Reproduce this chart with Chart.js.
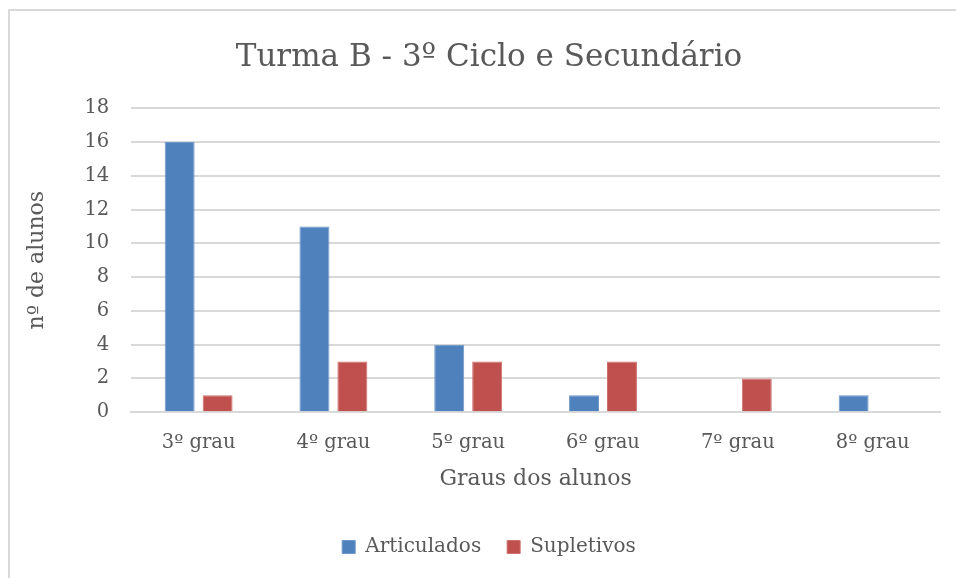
<!DOCTYPE html>
<html>
<head>
<meta charset="utf-8">
<script src="https://cdn.jsdelivr.net/npm/chart.js@4"></script>
<style>
  html, body { margin: 0; padding: 0; background: #fff; overflow: hidden; width: 956px; height: 578px; }
  #frame {
    position: absolute; left: 8px; top: 9px;
    width: 962px; height: 580px;
    border: 2px solid #d9d9d9; box-sizing: border-box; background: #fff;
  }
  #chart { display: block; }
</style>
</head>
<body>
<div id="frame"><canvas id="chart" width="958" height="576"></canvas></div>
<script>
  // dados
  const graus = ["3º grau", "4º grau", "5º grau", "6º grau", "7º grau", "8º grau"];
  const articulados = [16, 11, 4, 1, 0, 1];
  const supletivos = [1, 3, 3, 3, 2, 0];
  const yTicks = [0, 2, 4, 6, 8, 10, 12, 14, 16, 18];

  const FONT = "'DejaVu Serif', 'Liberation Serif', serif";
  const TXT = "#595959";
  const GRID = "#d9d9d9";

  new Chart(document.getElementById("chart"), {
    type: "bar",
    data: {
      labels: graus,
      datasets: [
        { label: "Articulados", data: articulados, backgroundColor: "#4f81bd", borderColor: "#6f97c9", borderWidth: 1 },
        { label: "Supletivos", data: supletivos, backgroundColor: "#c0504d", borderColor: "#cc716e", borderWidth: 1 }
      ]
    },
    options: {
      responsive: false,
      animation: false,
      categoryPercentage: 0.563,
      barPercentage: 0.79,
      layout: { padding: { left: 10, right: 10, top: 10, bottom: 20 } },
      scales: {
        x: {
          grid: { display: false },
          border: { color: GRID, width: 2 },
          ticks: { color: TXT, font: { family: FONT, size: 19.5 }, padding: 11 },
          title: { display: true, text: "Graus dos alunos", color: TXT, font: { family: FONT, size: 22 }, padding: { top: 0, bottom: 19 } }
        },
        y: {
          min: 0, max: 18,
          afterBuildTicks: axis => { axis.ticks = yTicks.map(v => ({ value: v })); },
          grid: { color: GRID, lineWidth: 2, drawTicks: false },
          border: { display: false },
          ticks: { color: TXT, font: { family: FONT, size: 19.5 }, padding: 22 },
          title: { display: true, text: "nº de alunos", color: TXT, font: { family: FONT, size: 22 }, padding: { bottom: 12 } }
        },
        // eixo vazio só para dar margem à direita
        yDir: {
          position: "right",
          grid: { display: false },
          border: { display: false },
          ticks: { display: false },
          afterFit: axis => { axis.width = 18; }
        }
      },
      plugins: {
        title: {
          display: true, text: "Turma B - 3º Ciclo e Secundário",
          color: TXT, font: { family: FONT, size: 31, weight: "normal" },
          padding: { top: 18, bottom: 32 }
        },
        legend: {
          position: "bottom",
          labels: { color: TXT, font: { family: FONT, size: 20 }, boxWidth: 13, boxHeight: 13, padding: 26 }
        },
        tooltip: { enabled: false }
      }
    }
  });
</script>
</body>
</html>
